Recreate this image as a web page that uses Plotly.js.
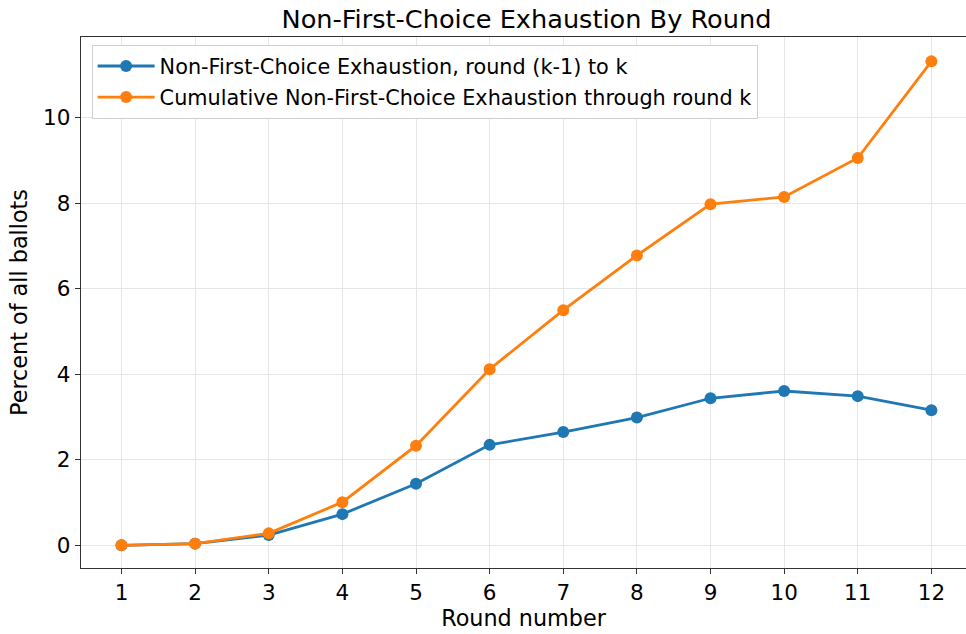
<!DOCTYPE html>
<html>
<head>
<meta charset="utf-8">
<script src="https://cdn.plot.ly/plotly-3.0.1.min.js"></script>
<style>html,body{margin:0;padding:0;background:#fff;}#chart{width:966px;height:634px;}</style>
</head>
<body>
<div id="chart"></div>
<script>
const rounds = [1, 2, 3, 4, 5, 6, 7, 8, 9, 10, 11, 12];
const perRound = [0, 0.04, 0.24, 0.73, 1.44, 2.35, 2.65, 2.99, 3.44, 3.61, 3.49, 3.16];
const cumulative = [0, 0.04, 0.28, 1.01, 2.33, 4.12, 5.50, 6.78, 7.98, 8.15, 9.06, 11.32];
const seriesNames = [
  "Non-First-Choice Exhaustion, round (k-1) to k",
  "Cumulative Non-First-Choice Exhaustion through round k"
];
const yTicks = [0, 2, 4, 6, 8, 10];

const traces = [
  {x: rounds, y: perRound, name: seriesNames[0], mode: "lines+markers", legendgroup: "a",
   line: {color: "#1f77b4", width: 2.8}, marker: {color: "#1f77b4", size: 12}},
  {x: rounds, y: cumulative, name: seriesNames[1], mode: "lines+markers", legendgroup: "b",
   line: {color: "#ff7f0e", width: 2.8}, marker: {color: "#ff7f0e", size: 12}}
];

const layout = {
  width: 966, height: 634,
  paper_bgcolor: "#fff", plot_bgcolor: "#fff",
  font: {family: "DejaVu Sans", color: "#000", size: 21.5},
  margin: {l: 81, r: 0, t: 37, b: 66},
  title: {text: "Non-First-Choice Exhaustion By Round", font: {size: 25.6}, x: 0.545, xanchor: "center", y: 0.97, yanchor: "middle"},
  showlegend: true,
  legend: {x: 0.012, y: 0.985, xanchor: "left", yanchor: "top", bgcolor: "rgba(255,255,255,0.9)",
           bordercolor: "#d0d0d0", borderwidth: 1, font: {size: 20.8}, traceorder: "grouped",
           tracegroupgap: 1, itemwidth: 57},
  xaxis: {range: [0.45, 12.47], tickmode: "array", tickvals: rounds, ticktext: rounds.map(String),
          showgrid: true, gridcolor: "#e6e6e6", gridwidth: 1, zeroline: false,
          showline: true, linecolor: "#333", linewidth: 1.3, mirror: true,
          ticks: "outside", ticklen: 5, tickcolor: "#333",
          title: {text: "Round number", font: {size: 22.3}, standoff: 5}},
  yaxis: {range: [-0.53, 11.89], tickmode: "array", tickvals: yTicks, ticktext: yTicks.map(String),
          showgrid: true, gridcolor: "#e6e6e6", gridwidth: 1, zeroline: false,
          showline: true, linecolor: "#333", linewidth: 1.3,
          ticks: "outside", ticklen: 5, tickcolor: "#333",
          title: {text: "Percent of all ballots", font: {size: 22.3}, standoff: 9}}
};

Plotly.newPlot("chart", traces, layout, {displayModeBar: false, staticPlot: true});
</script>
</body>
</html>
